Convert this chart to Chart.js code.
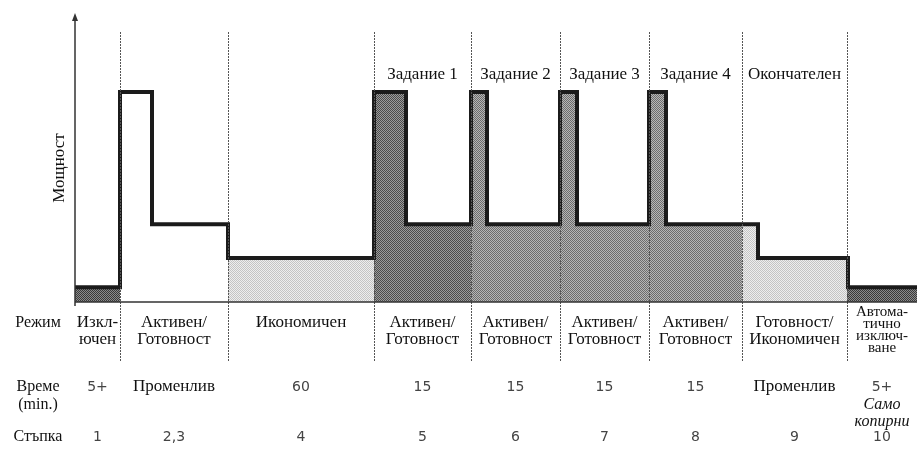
<!DOCTYPE html>
<html>
<head>
<meta charset="utf-8">
<script src="https://cdn.jsdelivr.net/npm/chart.js@4.4.1/dist/chart.umd.min.js"></script>
<style>
  html, body { margin:0; padding:0; background:#fff; }
  #wrap { width:917px; height:459px; position:relative; }
</style>
</head>
<body>
<div id="wrap"><canvas id="powerChart"></canvas></div>
<script>
// phase boundaries along the time axis (arbitrary units)
const phaseEdges = [0, 45, 153, 299, 396, 485, 574, 667, 772, 842];

// power profile: x where each level starts, and the level (percent of peak)
const stepX = [0, 45, 77, 153, 299, 331, 396, 412, 485, 502, 574, 591, 683, 773, 842];
const stepPower = [7, 100, 37, 21, 100, 37, 100, 37, 100, 37, 100, 37, 21, 7];

const taskHeaders = ["", "", "", "Задание 1", "Задание 2", "Задание 3", "Задание 4", "Окончателен", ""];
const modeLabels = [
  ["Изкл-", "ючен"],
  ["Активен/", "Готовност"],
  ["Икономичен"],
  ["Активен/", "Готовност"],
  ["Активен/", "Готовност"],
  ["Активен/", "Готовност"],
  ["Активен/", "Готовност"],
  ["Готовност/", "Икономичен"],
  ["Автома-", "тично", "изключ-", "ване"]
];
const timeLabels = ["5+", "Променлив", "60", "15", "15", "15", "15", "Променлив", "5+"];
const timeNotes = ["", "", "", "", "", "", "", "", "Само копирни"];
const stepLabels = ["1", "2,3", "4", "5", "6", "7", "8", "9", "10"];
const rowTitles = ["Режим", "Време", "Стъпка"];
const axisTitle = "Мощност";

// fill kind for each phase
const phaseShade = ["off", "none", "light", "task1", "task", "task", "task", "light", "off"];

const SERIF = "'Liberation Serif', 'DejaVu Serif', serif";
const SANS = "'DejaVu Sans', sans-serif";

function halftone(a, b) {
  const c = document.createElement("canvas");
  c.width = 2; c.height = 2;
  const g = c.getContext("2d");
  g.fillStyle = a; g.fillRect(0, 0, 2, 2);
  g.fillStyle = b; g.fillRect(1, 0, 1, 1); g.fillRect(0, 1, 1, 1);
  return g.createPattern(c, "repeat");
}

const shades = {
  off: halftone("#3a3a3a", "#8c8c8c"),
  task1: halftone("#4c4c4c", "#9c9c9c"),
  task: halftone("#6c6c6c", "#b6b6b6"),
  light: halftone("#c4c4c4", "#eeeeee"),
  none: "rgba(0,0,0,0)"
};

function levelAt(x) {
  let lv = stepPower[0];
  for (let i = 0; i < stepPower.length; i++) if (x >= stepX[i]) lv = stepPower[i];
  return lv;
}

function profile(a, b) {
  const pts = [{ x:a, y:levelAt(a) }];
  stepX.forEach(x => { if (x > a && x < b) pts.push({ x, y:levelAt(x) }); });
  pts.push({ x:b, y:levelAt(b - 0.001) });
  return pts;
}

const datasets = [];
phaseShade.forEach((s, i) => {
  if (s === "none") return;
  datasets.push({
    data: profile(phaseEdges[i], phaseEdges[i + 1]),
    stepped: "before",
    borderWidth: 0,
    pointRadius: 0,
    fill: "origin",
    backgroundColor: shades[s],
    order: 2
  });
});
// thick outline of the power curve, drawn on top of the fills
datasets.push({
  data: profile(phaseEdges[0], phaseEdges[phaseEdges.length - 1]),
  stepped: "before",
  borderColor: "#1b1b1b",
  borderWidth: 4,
  borderJoinStyle: "miter",
  pointRadius: 0,
  fill: false,
  order: 1
});

const decor = {
  id: "decor",
  afterDatasetsDraw(chart) {
    const { ctx, chartArea: a, scales: { x } } = chart;
    ctx.save();

    // phase dividers
    ctx.strokeStyle = "#555";
    ctx.lineWidth = 1;
    ctx.setLineDash([2, 1]);
    phaseEdges.slice(1, -1).forEach(v => {
      const px = Math.round(x.getPixelForValue(v)) + 0.5;
      ctx.beginPath();
      ctx.moveTo(px, a.top + 19);
      ctx.lineTo(px, a.bottom + 60);
      ctx.stroke();
    });
    ctx.setLineDash([]);

    // baseline and power axis with arrow
    ctx.strokeStyle = "#333";
    ctx.lineWidth = 1.5;
    ctx.beginPath();
    ctx.moveTo(a.left, a.bottom);
    ctx.lineTo(a.right, a.bottom);
    ctx.moveTo(a.left, a.bottom + 4);
    ctx.lineTo(a.left, a.top + 4);
    ctx.stroke();
    ctx.fillStyle = "#333";
    ctx.beginPath();
    ctx.moveTo(a.left, a.top);
    ctx.lineTo(a.left - 3, a.top + 8);
    ctx.lineTo(a.left + 3, a.top + 8);
    ctx.closePath();
    ctx.fill();

    // axis title
    ctx.save();
    ctx.translate(a.left - 15, 168);
    ctx.rotate(-Math.PI / 2);
    ctx.font = "17px " + SERIF;
    ctx.fillStyle = "#111";
    ctx.textAlign = "center";
    ctx.textBaseline = "middle";
    ctx.fillText(axisTitle, 0, 0);
    ctx.restore();

    // column texts
    ctx.textAlign = "center";
    ctx.textBaseline = "middle";
    const isNum = t => /^[0-9,+]+$/.test(t);
    const put = (t, cx, cy, font, color) => {
      ctx.font = font; ctx.fillStyle = color; ctx.fillText(t, cx, cy);
    };
    for (let i = 0; i < phaseEdges.length - 1; i++) {
      const cx = (x.getPixelForValue(phaseEdges[i]) + x.getPixelForValue(phaseEdges[i + 1])) / 2;
      if (taskHeaders[i]) put(taskHeaders[i], cx, 75, "17px " + SERIF, "#111");

      const m = modeLabels[i];
      if (m.length > 2) {
        m.forEach((t, k) => put(t, cx, 312 + k * 12, "15px " + SERIF, "#111"));
      } else {
        m.forEach((t, k) => put(t, cx, 323 + k * 17, "17px " + SERIF, "#111"));
      }

      const tl = timeLabels[i];
      put(tl, cx, 387, isNum(tl) ? "14px " + SANS : "17px " + SERIF, isNum(tl) ? "#444" : "#111");
      if (timeNotes[i]) {
        timeNotes[i].split(" ").forEach((t, k) =>
          put(t, cx, 405 + k * 17, "italic 16px " + SERIF, "#111"));
      }
      put(stepLabels[i], cx, 437, "14px " + SANS, "#444");
    }

    // row titles
    put(rowTitles[0], 38, 323, "16px " + SERIF, "#111");
    put(rowTitles[1], 38, 387, "16px " + SERIF, "#111");
    put("(min.)", 38, 405, "16px " + SERIF, "#111");
    put(rowTitles[2], 38, 437, "16px " + SERIF, "#111");

    ctx.restore();
  }
};

new Chart(document.getElementById("powerChart"), {
  type: "line",
  data: { datasets },
  options: {
    responsive: true,
    maintainAspectRatio: false,
    animation: false,
    layout: { padding: { left:75, right:0, top:13, bottom:157 } },
    plugins: { legend: { display:false }, tooltip: { enabled:false } },
    scales: {
      x: { type:"linear", min:0, max:842, display:false },
      y: { min:0, max:137.6, display:false }
    }
  },
  plugins: [decor]
});
</script>
</body>
</html>
